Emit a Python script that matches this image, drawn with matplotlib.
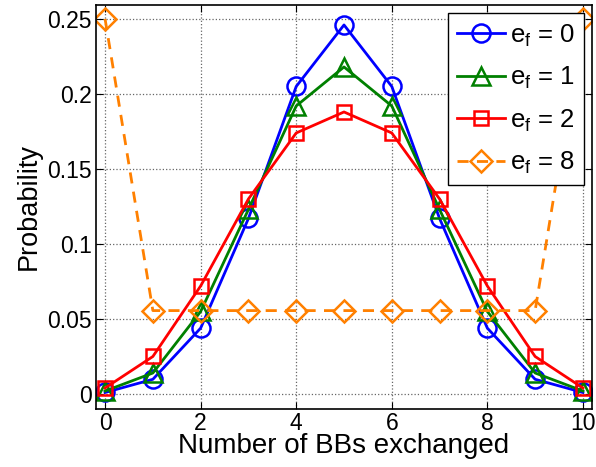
import matplotlib
matplotlib.use("Agg")
import matplotlib.pyplot as plt
import numpy as np

plt.rcParams["font.family"] = ["Liberation Sans", "DejaVu Sans"]
plt.rcParams["mathtext.fontset"] = "custom"
plt.rcParams["mathtext.rm"] = "Liberation Sans"

# number of BBs exchanged
n_bbs = np.arange(0, 11)

# probabilities
p_ef0 = [0.001, 0.0098, 0.0439, 0.117, 0.205, 0.246, 0.205, 0.117, 0.0439, 0.0098, 0.001]
p_ef1 = [0.002, 0.014, 0.055, 0.123, 0.192, 0.218, 0.192, 0.123, 0.055, 0.014, 0.002]
p_ef2 = [0.004, 0.025, 0.072, 0.130, 0.174, 0.188, 0.174, 0.130, 0.072, 0.025, 0.004]
p_ef8 = [0.25, 0.0556, 0.0556, 0.0556, 0.0556, 0.0556, 0.0556, 0.0556, 0.0556, 0.0556, 0.25]

labels = [r"e$_\mathregular{f}$ = 0", r"e$_\mathregular{f}$ = 1",
          r"e$_\mathregular{f}$ = 2", r"e$_\mathregular{f}$ = 8"]

fig = plt.figure(figsize=(5.96, 4.67), dpi=100)
ax = fig.add_axes([96 / 596, 1 - 409 / 467, 496 / 596, 404 / 467])

style = dict(linewidth=2.0, markerfacecolor="none", markeredgewidth=1.8)
ax.plot(n_bbs, p_ef0, "-o", color="#0000FF", label=labels[0], markersize=13, **style)
ax.plot(n_bbs, p_ef1, "-^", color="#008000", label=labels[1], markersize=13, **style)
ax.plot(n_bbs, p_ef2, "-s", color="#FF0000", label=labels[2], markersize=10, **style)
ax.plot(n_bbs, p_ef8, "--D", color="#FF8000", label=labels[3], markersize=11,
        dashes=(4, 3), **style)

ax.set_xlim(-0.19, 10.19)
ax.set_ylim(-0.01, 0.2593)
ax.set_xticks([0, 2, 4, 6, 8, 10])
ax.set_yticks([0, 0.05, 0.1, 0.15, 0.2, 0.25])
ax.set_yticklabels(["0", "0.05", "0.1", "0.15", "0.2", "0.25"])
ax.tick_params(labelsize=16.5, direction="in", length=5, top=True, right=True, pad=3)
ax.tick_params(axis="x", pad=2)
ax.grid(True, linestyle=":", color="#666666", linewidth=0.9)
for s in ax.spines.values():
    s.set_linewidth(1.2)

ax.set_xlabel("Number of BBs exchanged", fontsize=20, labelpad=-1)
ax.set_ylabel("Probability", fontsize=19.5, labelpad=4)

leg = ax.legend(loc="upper right", fontsize=18.5, fancybox=False, framealpha=1,
                edgecolor="black", borderaxespad=0.32, handlelength=1.85,
                handletextpad=0.2, labelspacing=0.62, borderpad=0.35)
leg.get_frame().set_linewidth(1.0)

fig.savefig("out.png", dpi=100)
